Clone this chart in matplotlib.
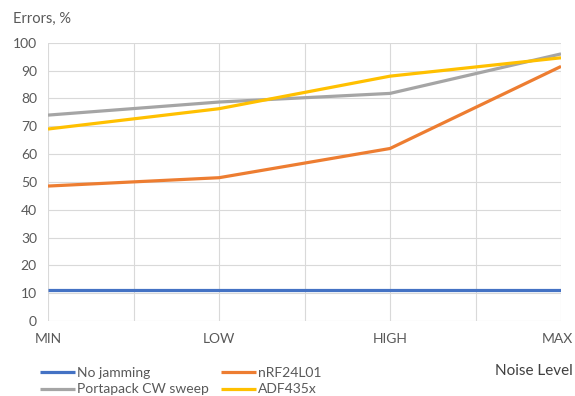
import matplotlib.pyplot as plt
import matplotlib.transforms as mtransforms
import numpy as np

plt.rcParams['font.family'] = ['Lato', 'DejaVu Sans']

# Error rate per noise level for each jammer
levels = ["MIN", "LOW", "HIGH", "MAX"]
no_jamming = [11, 11, 11, 11]
nrf24 = [48.5, 51.5, 62, 91.5]
portapack = [74, 78.7, 81.8, 96]
adf435x = [69, 76.3, 88, 94.6]

series = [
    ("No jamming", no_jamming, "#4472C4"),
    ("nRF24L01", nrf24, "#ED7D31"),
    ("Portapack CW sweep", portapack, "#A5A5A5"),
    ("ADF435x", adf435x, "#FFC000"),
]

fig = plt.figure(figsize=(5.75, 3.96), dpi=100)
ax = fig.add_axes([0.0835, 0.1894, 0.8922, 0.7026])

x = np.arange(len(levels))
lines = {}
for name, vals, col in series:
    lines[name], = ax.plot(x, vals, color=col, lw=2.3, label=name,
                           solid_capstyle="butt")

ax.set_xlim(0, len(levels) - 1)
ax.set_ylim(0, 100)
ax.set_yticks(range(0, 101, 10))
ax.set_xticks(x)
ax.set_xticklabels(levels)
ax.set_xticks(np.arange(0, len(levels) - 0.9, 0.5), minor=True)

ax.grid(True, which="both", color="#D9D9D9", lw=0.8)
ax.set_axisbelow(True)
for s in ax.spines.values():
    s.set_visible(False)
ax.tick_params(which="both", length=0, labelsize=10, labelcolor="#595959")
ax.tick_params(axis="x", pad=9)
ax.tick_params(axis="y", pad=8)

# nudge the last category label inward so it stays inside the figure
last = ax.get_xticklabels()[-1]
last.set_transform(last.get_transform() +
                   mtransforms.ScaledTranslation(-4 / 100, 0, fig.dpi_scale_trans))

fig.text(0.022, 0.953, "Errors, %", fontsize=10.5, color="#595959", va="center")
fig.text(0.996, 0.064, "Noise Level", fontsize=11, color="#404040",
         ha="right", va="center")

# legend fills column-wise, so order entries to read row by row
order = ["No jamming", "Portapack CW sweep", "nRF24L01", "ADF435x"]
fig.legend([lines[n] for n in order], order, loc="lower left",
           bbox_to_anchor=(0.048, -0.03), ncol=2,
           frameon=False, fontsize=10, handlelength=2.5, handletextpad=0.15,
           columnspacing=0.9, labelspacing=0.3, labelcolor="#595959")

fig.savefig("out.png", dpi=100)
